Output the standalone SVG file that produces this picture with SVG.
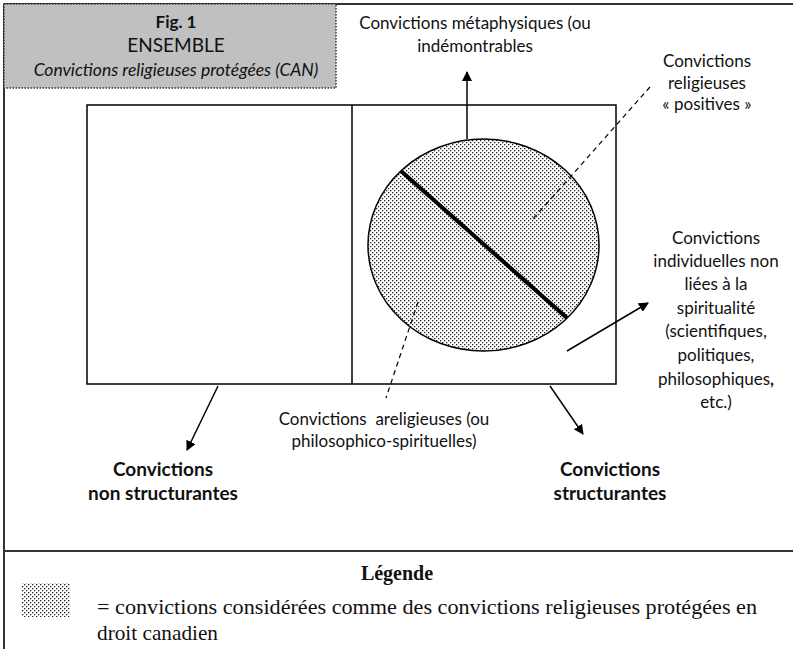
<svg xmlns="http://www.w3.org/2000/svg" width="793" height="649" viewBox="0 0 793 649">
<defs>
<pattern id="dots" width="4" height="4" patternUnits="userSpaceOnUse">
<rect x="0" y="0" width="4" height="4" fill="#ffffff"/>
<rect x="0" y="0" width="1.3" height="1.3" fill="#222"/>
<rect x="2" y="2" width="1.3" height="1.3" fill="#222"/>
</pattern>
<marker id="arr" viewBox="0 0 10 10" refX="9" refY="5" markerWidth="10" markerHeight="10" markerUnits="userSpaceOnUse" orient="auto">
<path d="M0,0 L10,5 L0,10 Z" fill="#000"/>
</marker>
<style>
.t{font-family:Lato,"Open Sans","Liberation Sans",sans-serif;font-size:17px;fill:#111;text-anchor:middle}
.b{font-weight:bold;font-size:19px}
.i{font-style:italic;font-size:17.5px}
.s{font-family:"Liberation Serif","DejaVu Serif",serif;fill:#111}
.ln{stroke:#000;stroke-width:1.5;fill:none}
.dash{stroke:#000;stroke-width:1.2;fill:none;stroke-dasharray:5,4}
</style>
</defs>
<g id="frame">
<line x1="4" y1="4" x2="793" y2="4" stroke="#333" stroke-width="2"/>
<line x1="4" y1="4" x2="4" y2="649" stroke="#333" stroke-width="2"/>
<line x1="4" y1="551" x2="793" y2="551" stroke="#333" stroke-width="2"/>
</g>
<g id="title">
<rect x="4" y="4" width="332" height="84" fill="#c0c0c0" stroke="#333" stroke-width="1.5" stroke-dasharray="1.5,1.5"/>
<text class="t" x="176" y="28" style="font-weight:bold">Fig. 1</text>
<text class="t" x="176" y="52" style="font-size:19px">ENSEMBLE</text>
<text class="t i" x="176" y="76">Convictions religieuses protégées (CAN)</text>
</g>
<g id="ensemble">
<rect x="87" y="105" width="529" height="279" class="ln"/>
<line x1="352" y1="105" x2="352" y2="384" class="ln"/>
</g>
<g id="cercle">
<ellipse cx="483.5" cy="245" rx="115.5" ry="106" fill="url(#dots)" stroke="#000" stroke-width="1.5"/>
<line x1="401" y1="171" x2="567" y2="318" stroke="#000" stroke-width="4"/>
</g>
<g id="connectors">
<line x1="467" y1="139" x2="467" y2="72" class="ln" marker-end="url(#arr)"/>
<line x1="567" y1="351" x2="648" y2="303" class="ln" marker-end="url(#arr)"/>
<line x1="218" y1="386" x2="187" y2="450" class="ln" marker-end="url(#arr)"/>
<line x1="550" y1="386" x2="583" y2="434" class="ln" marker-end="url(#arr)"/>
<line x1="650" y1="87" x2="533" y2="219" class="dash"/>
<line x1="418" y1="302" x2="386" y2="398" class="dash"/>
</g>
<g id="label-metaphysiques">
<text class="t" x="475" y="29">Convictions métaphysiques (ou</text>
<text class="t" x="475" y="52">indémontrables</text>
</g>
<g id="label-positives">
<text class="t" x="707" y="67">Convictions</text>
<text class="t" x="707" y="89">religieuses</text>
<text class="t" x="707" y="110">« positives »</text>
</g>
<g id="label-individuelles">
<text class="t" x="716" y="244">Convictions</text>
<text class="t" x="716" y="267">individuelles non</text>
<text class="t" x="716" y="290">liées à la</text>
<text class="t" x="716" y="314">spiritualité</text>
<text class="t" x="716" y="337">(scientifiques,</text>
<text class="t" x="716" y="361">politiques,</text>
<text class="t" x="716" y="385">philosophiques<tspan font-weight="bold">,</tspan></text>
<text class="t" x="716" y="408">etc.)</text>
</g>
<g id="label-areligieuses">
<text class="t" x="384" y="425">Convictions&#160; areligieuses (ou</text>
<text class="t" x="384" y="447">philosophico-spirituelles)</text>
</g>
<g id="non-structurantes">
<text class="t b" x="163" y="476">Convictions</text>
<text class="t b" x="163" y="500">non structurantes</text>
</g>
<g id="structurantes">
<text class="t b" x="610" y="476">Convictions</text>
<text class="t b" x="610" y="500">structurantes</text>
</g>
<g id="legende">
<text class="s" x="397" y="580" text-anchor="middle" font-weight="bold" font-size="20">Légende</text>
<rect x="22" y="583" width="48" height="34" fill="url(#dots)"/>
<text class="s" x="97" y="614" font-size="21" textLength="660" lengthAdjust="spacingAndGlyphs">= convictions considérées comme des convictions religieuses protégées en</text>
<text class="s" x="97" y="640" font-size="21" textLength="121" lengthAdjust="spacingAndGlyphs">droit canadien</text>
</g>
</svg>
